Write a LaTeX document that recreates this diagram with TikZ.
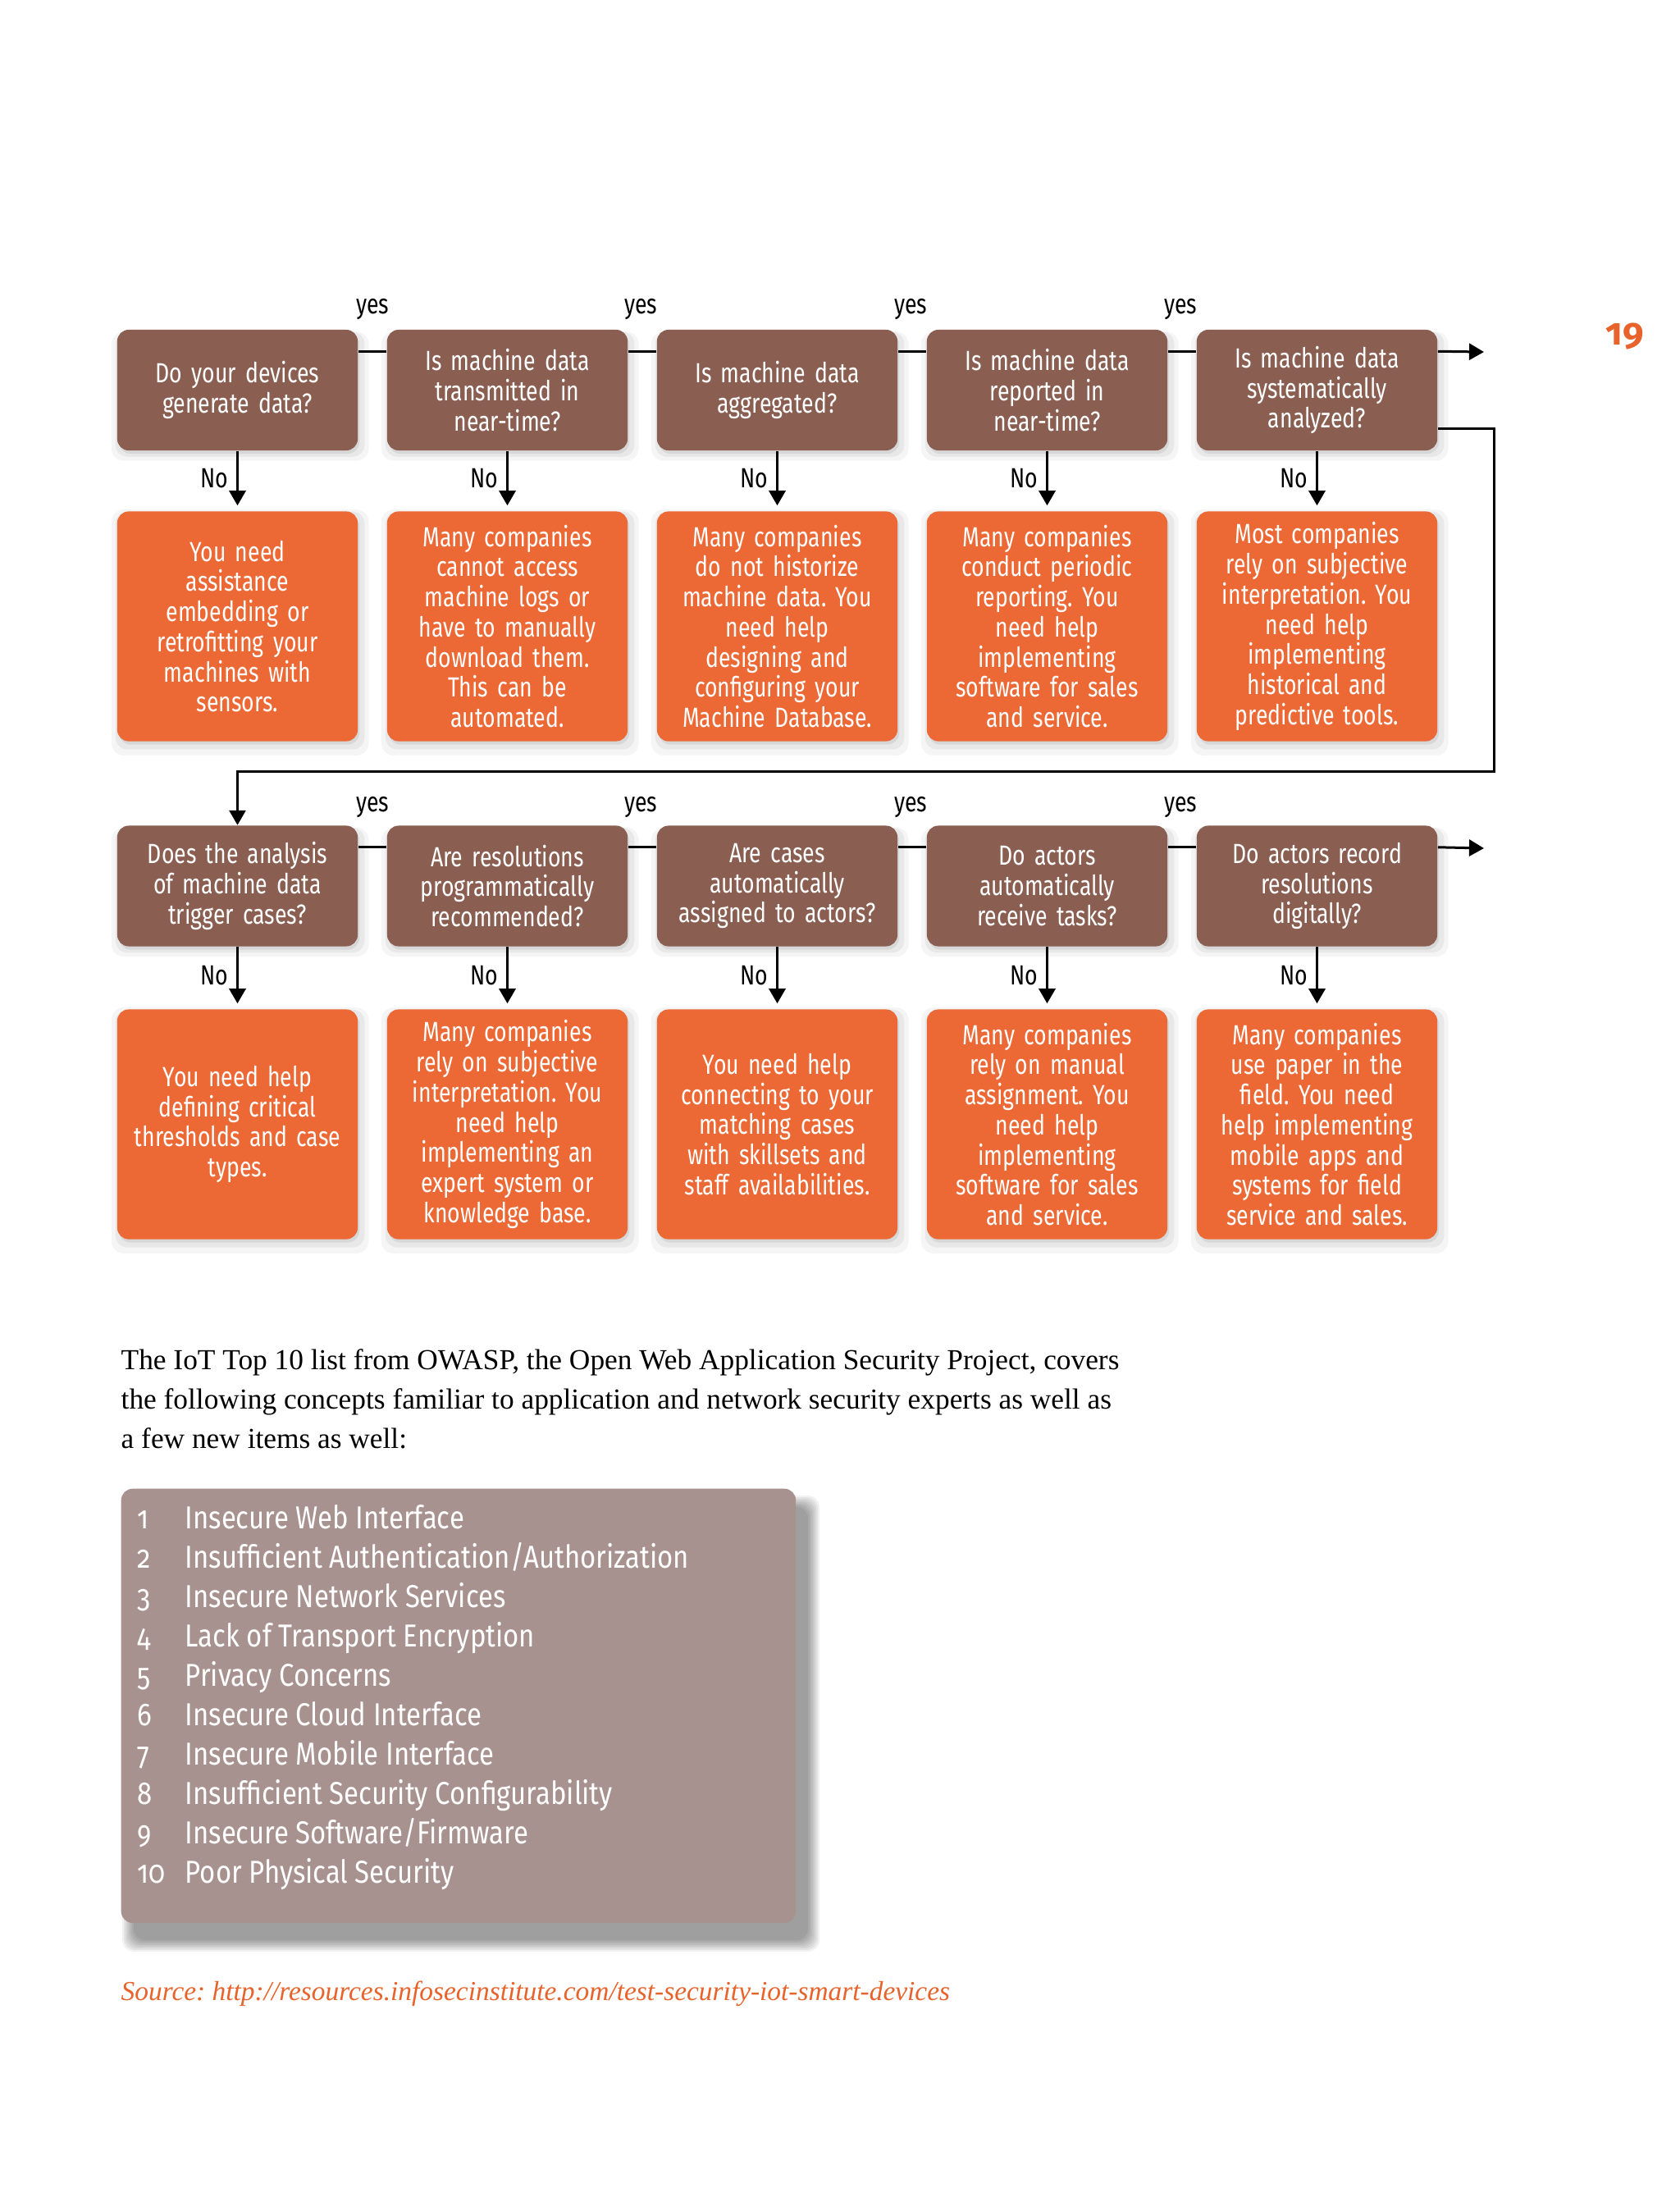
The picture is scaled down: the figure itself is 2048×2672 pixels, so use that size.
\documentclass[tikz,border=0pt]{standalone}
\usepackage{fontspec}
\setmainfont{Liberation Serif}
\newfontfamily\boxfont{Fira Sans}[FakeStretch=0.79,Numbers=OldStyle]
\newfontfamily\listfont{Fira Sans}[FakeStretch=0.85,Numbers=OldStyle]
\newfontfamily\numfont{Fira Sans}[Numbers=OldStyle]
\usetikzlibrary{arrows.meta,shadows,calc}
\definecolor{qbrown}{HTML}{8A5F52}
\definecolor{aorange}{HTML}{EC6936}
\definecolor{listbg}{HTML}{A8928F}
\definecolor{srcorange}{HTML}{E8632B}
\frenchspacing
\begin{document}
\begin{tikzpicture}[x=0.01cm,y=-0.01cm,
 softsh/.style={
  general shadow={fill=black, opacity=0.04, shadow xshift=0.03cm, shadow yshift=-0.07cm, shadow scale=1.07},
  general shadow={fill=black, opacity=0.05, shadow xshift=0.03cm, shadow yshift=-0.05cm, shadow scale=1.035},
  general shadow={fill=black, opacity=0.07, shadow xshift=0.02cm, shadow yshift=-0.04cm}},
 basebox/.style={rounded corners=0.14cm, minimum width=2.93cm, text width=2.8cm, align=center,
  inner sep=0pt, text=white, font=\boxfont\frenchspacing\fontsize{9.6}{10.45}\selectfont, softsh},
 qbox/.style={basebox, fill=qbrown, minimum height=1.47cm},
 abox/.style={basebox, fill=aorange, minimum height=2.8cm},
 conn/.style={line width=0.03cm, black},
 arr/.style={conn, -{Triangle[length=0.18cm,width=0.2cm]}},
 lbl/.style={font=\boxfont\fontsize{9.6}{10}\selectfont, text=black, inner sep=0pt},
 para/.style={anchor=base west, inner sep=0pt, font=\fontsize{10.05}{12}\selectfont},
 itemnum/.style={anchor=base west, inner sep=0pt, text=white, font=\listfont\fontsize{11}{12}\selectfont},
 itemtxt/.style={anchor=base west, inner sep=0pt, text=white, font=\listfont\fontsize{11}{12}\selectfont},
]
\useasboundingbox (0,0) rectangle (2048,2672);
\fill[white] (0,0) rectangle (2048,2672);

% page number
\node[inner sep=0pt, anchor=base, text=srcorange, font=\numfont\bfseries\fontsize{13}{13}\selectfont] (pg) at (1981,420) {19};

% ---------- row 1 ----------
\node[qbox] (q1) at (289.5,475.5) {Do your devices\\generate data?};
\node[qbox] (q2) at (618.5,475.5) {Is machine data\\transmitted in\\near-time?};
\node[qbox] (q3) at (947.5,475.5) {Is machine data\\aggregated?};
\node[qbox] (q4) at (1276.5,475.5) {Is machine data\\reported in\\near-time?};
\node[qbox] (q5) at (1605.5,475.5) {Is machine data\\systematically\\analyzed?};

\node[abox] (a1) at (289.5,763.5) {You need\\assistance\\embedding or\\retrofitting your\\machines with\\sensors.};
\node[abox] (a2) at (618.5,763.5) {Many companies\\cannot access\\machine logs or\\have to manually\\download them.\\This can be\\automated.};
\node[abox] (a3) at (947.5,763.5) {Many companies\\do not historize\\machine data. You\\need help\\designing and\\configuring your\\Machine Database.};
\node[abox] (a4) at (1276.5,763.5) {Many companies\\conduct periodic\\reporting. You\\need help\\implementing\\software for sales\\and service.};
\node[abox] (a5) at (1605.5,763.5) {Most companies\\rely on subjective\\interpretation. You\\need help\\implementing\\historical and\\predictive tools.};

% ---------- row 2 ----------
\node[qbox] (r1) at (289.5,1080) {Does the analysis\\of machine data\\trigger cases?};
\node[qbox] (r2) at (618.5,1080) {Are resolutions\\programmatically\\recommended?};
\node[qbox] (r3) at (947.5,1080) {Are cases\\automatically\\assigned to actors?};
\node[qbox] (r4) at (1276.5,1080) {Do actors\\automatically\\receive tasks?};
\node[qbox] (r5) at (1605.5,1080) {Do actors record\\resolutions\\digitally?};

\node[abox] (b1) at (289.5,1370.5) {You need help\\defining critical\\thresholds and case\\types.};
\node[abox] (b2) at (618.5,1370.5) {Many companies\\rely on subjective\\interpretation. You\\need help\\implementing an\\expert system or\\knowledge base.};
\node[abox] (b3) at (947.5,1370.5) {You need help\\connecting to your\\matching cases\\with skillsets and\\staff availabilities.};
\node[abox] (b4) at (1276.5,1370.5) {Many companies\\rely on manual\\assignment. You\\need help\\implementing\\software for sales\\and service.};
\node[abox] (b5) at (1605.5,1370.5) {Many companies\\use paper in the\\field. You need\\help implementing\\mobile apps and\\systems for field\\service and sales.};

% ---------- yes connectors ----------
\foreach \a/\b in {q1/q2,q2/q3,q3/q4,q4/q5,r1/r2,r2/r3,r3/r4,r4/r5}{
  \draw[conn] ([yshift=-0.27cm]\a.north east) -- ([yshift=-0.27cm]\b.north west);
}
\node[lbl, anchor=base] (y1) at (454,382.5) {yes};
\node[lbl, anchor=base] (y2) at (781,382.5) {yes};
\node[lbl, anchor=base] (y3) at (1110,382.5) {yes};
\node[lbl, anchor=base] (y4) at (1439,382.5) {yes};
\node[lbl, anchor=base] (y5) at (454,989) {yes};
\node[lbl, anchor=base] (y6) at (781,989) {yes};
\node[lbl, anchor=base] (y7) at (1110,989) {yes};
\node[lbl, anchor=base] (y8) at (1439,989) {yes};

\coordinate (out1) at (1809,429);
\coordinate (out2) at (1809,1034);
\draw[arr] ([yshift=-0.27cm]q5.north east) -- (out1);
\draw[arr] ([yshift=-0.27cm]r5.north east) -- (out2);

% loop from row 1 to row 2
\coordinate (lp1) at (1821,940.5);
\coordinate (lp2) at (289.5,940.5);
\draw[arr] ([yshift=-1.21cm]q5.north east) -| (lp1) -- (lp2) -- (r1.north);

% ---------- No connectors ----------
\foreach \a/\b in {q1/a1,q2/a2,q3/a3,q4/a4,q5/a5,r1/b1,r2/b2,r3/b3,r4/b4,r5/b5}{
  \draw[arr, shorten >=0.065cm] (\a.south) -- node[lbl, left=0.1cm, pos=0.46] {No} (\b.north);
}

% ---------- paragraph ----------
\node[para] (p1) at (147,1669) {The IoT Top 10 list from OWASP, the Open Web Application Security Project, covers};
\node[para] (p2) at (147,1717) {the following concepts familiar to application and network security experts as well as};
\node[para] (p3) at (147,1765) {a few new items as well:};

% ---------- list box ----------
\foreach \k in {1,...,8}{
  \pgfmathsetmacro{\d}{16-2*\k}
  \fill[black, opacity=0.055, rounded corners=0.14cm] (163-\d,1837-\d) rectangle (985+\d,2365+\d);
}
\node[fill=listbg, rounded corners=0.14cm, minimum width=8.22cm, minimum height=5.29cm, anchor=north west, inner sep=0pt] (lst) at (147,1814) {};

\foreach \i/\t in {1/{Insecure Web Interface},2/{Insufficient Authentication/Authorization},3/{Insecure Network Services},4/{Lack of Transport Encryption},5/{Privacy Concerns},6/{Insecure Cloud Interface},7/{Insecure Mobile Interface},8/{Insufficient Security Configurability},9/{Insecure Software/Firmware},10/{Poor Physical Security}}{
  \node[itemnum] (n\i) at (167,{1863+48.1*(\i-1)}) {\i};
  \node[itemtxt] (t\i) at (225,{1863+48.1*(\i-1)}) {\t};
}

% ---------- source ----------
\node[para, text=srcorange, font=\itshape\fontsize{9.5}{12}\selectfont] (src) at (147,2438) {Source: http://resources.infosecinstitute.com/test-security-iot-smart-devices};
\end{tikzpicture}
\end{document}
